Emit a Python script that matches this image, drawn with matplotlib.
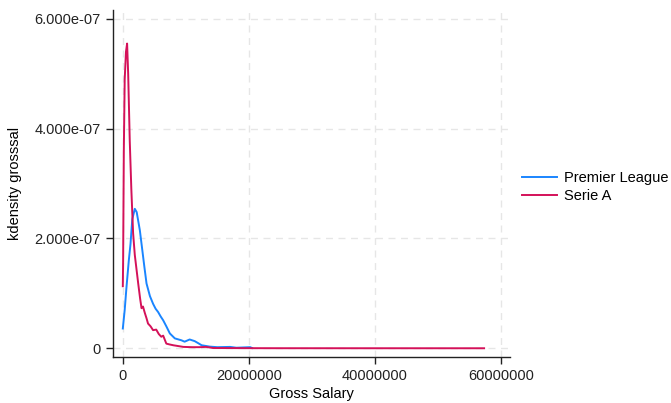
import numpy as np
import matplotlib.pyplot as plt
from matplotlib.ticker import FuncFormatter

plt.rcParams['font.family'] = ['Liberation Sans', 'DejaVu Sans']

# salary in millions, density in units of 1e-7
pl_salary = [0, 0.3, 0.58, 0.95, 1.22, 1.5, 1.9, 2.2, 2.7, 3.1, 3.4, 3.76,
             4.3, 4.8, 5.2, 5.6, 6.0, 6.4, 6.9, 7.46, 8.25, 9.3, 9.8, 10.6,
             11.4, 12.0, 12.5, 13.8, 15, 17, 18, 20.2, 20.5]
pl_density = [0.36, 0.7, 1.11, 1.6, 1.9, 2.35, 2.54, 2.48, 2.15, 1.78, 1.5, 1.18,
              0.95, 0.81, 0.72, 0.66, 0.58, 0.51, 0.40, 0.27, 0.18, 0.145, 0.12, 0.16,
              0.13, 0.09, 0.055, 0.03, 0.02, 0.025, 0.01, 0.02, 0.005]

sa_salary = [0, 0.05, 0.16, 0.3, 0.5, 0.68, 0.85, 1.1, 1.35, 1.63, 1.9, 2.44,
             2.75, 2.97, 3.2, 3.5, 3.75, 4.0, 4.4, 4.8, 5.3, 5.7, 6.1, 6.4,
             6.9, 7.4, 8.0, 8.8, 9.6, 11, 12.2, 13.2, 14.3, 16, 20, 25, 30,
             40, 50, 57.3]
sa_density = [1.13, 1.6, 3.6, 4.9, 5.4, 5.55, 5.0, 3.78, 2.9, 2.1, 1.7, 1.18,
              0.9, 0.73, 0.76, 0.64, 0.55, 0.45, 0.40, 0.33, 0.34, 0.26, 0.21, 0.23,
              0.085, 0.07, 0.055, 0.04, 0.025, 0.02, 0.02, 0.025, 0.005, 0.004, 0.002, 0.001, 0.0008,
              0.0005, 0.0003, 0.0002]

x_ticks = [0, 20000000, 40000000, 60000000]
y_ticks = [0, 2e-7, 4e-7, 6e-7]


def yfmt(v, pos):
    if v == 0:
        return "0"
    return f"{v:.3e}"


fig = plt.figure(figsize=(6.71, 4.03), dpi=100)
ax = fig.add_axes([0.168, 0.114, 0.592, 0.861])

ax.plot(np.array(pl_salary) * 1e6, np.array(pl_density) * 1e-7,
        color='#1A85FF', lw=1.4, label='Premier League')
ax.plot(np.array(sa_salary) * 1e6, np.array(sa_density) * 1e-7,
        color='#D41159', lw=1.4, label='Serie A')

ax.set_xlim(-1.6e6, 61.4e6)
ax.set_ylim(-1.6e-8, 6.16e-7)
ax.set_xticks(x_ticks)
ax.set_xticklabels([str(t) for t in x_ticks])
ax.set_yticks(y_ticks)
ax.yaxis.set_major_formatter(FuncFormatter(yfmt))

ax.grid(True, color='#e6e6e6', ls=(0, (5, 4)), lw=1)
ax.set_axisbelow(True)
for s in ['top', 'right']:
    ax.spines[s].set_visible(False)
for s in ['left', 'bottom']:
    ax.spines[s].set_color('#222222')
    ax.spines[s].set_linewidth(1)
ax.tick_params(direction='out', length=5, width=1, labelsize=10.5, colors='#222222')

ax.set_xlabel('Gross Salary', fontsize=10.5, labelpad=3)
ax.set_ylabel('kdensity grosssal', fontsize=10.5, labelpad=9)

ax.legend(loc='center left', bbox_to_anchor=(1.005, 0.49), frameon=False,
          fontsize=10.5, handlelength=2.4, handletextpad=0.5, labelspacing=0.25,
          borderaxespad=0.3)

fig.savefig('out.png', dpi=100)
